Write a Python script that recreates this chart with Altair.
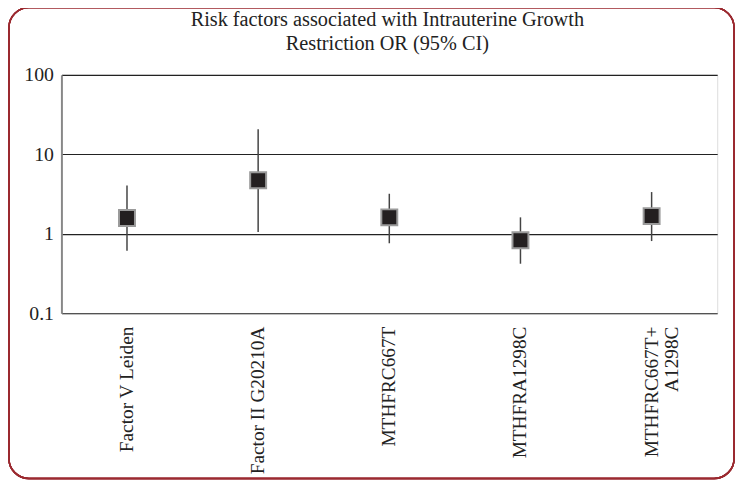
import altair as alt
import pandas as pd

categories = ["Factor V Leiden", "Factor II G20210A", "MTHFRC667T", "MTHFRA1298C", "MTHFRC667T+|A1298C"]
odds_ratio = [1.58, 4.73, 1.61, 0.83, 1.67]
ci_lower = [0.61, 1.05, 0.76, 0.42, 0.81]
ci_upper = [4.06, 20.7, 3.19, 1.61, 3.35]
y_ticks = [0.1, 1, 10, 100]

df = pd.DataFrame({"cat": categories, "or": odds_ratio, "lo": ci_lower, "hi": ci_upper})

FONT = "Liberation Serif"

x = alt.X("cat:N", sort=categories, title=None,
          scale=alt.Scale(paddingInner=0, paddingOuter=0),
          axis=alt.Axis(labelAngle=-90, labelFont=FONT, labelFontSize=19.5, labelColor="#222",
                        labelPadding=13, labelLimit=300, ticks=False, domain=False,
                        labelLineHeight=21,
                        labelExpr="split(datum.label, '|')"))
yscale = alt.Scale(type="log", domain=[0.1, 100])

frame = alt.Chart(df).mark_rect(fill=None, stroke="#9b2a30", strokeWidth=1.5, cornerRadius=20).encode(
    x=alt.value(-53), x2=alt.value(680), y=alt.value(-68), y2=alt.value(408)
)

rules = alt.Chart(df).mark_rule(color="#444", strokeWidth=1.5).encode(
    x=x,
    y=alt.Y("lo:Q", scale=yscale, title=None,
            axis=alt.Axis(values=y_ticks, format="~g", labelFont=FONT, labelFontSize=20,
                          labelColor="#222", labelPadding=8, ticks=False,
                          domainColor="#888", domainWidth=2,
                          grid=True, gridColor="#222", gridWidth=1.2)),
    y2="hi:Q",
)

squares = alt.Chart(df).mark_square(filled=True, fill="#231f20", stroke="#9a9a9a",
                                     strokeWidth=2, size=260, opacity=1).encode(
    x=x,
    y=alt.Y("or:Q", scale=yscale),
)

chart = alt.layer(frame, rules, squares).properties(
    width=663, height=241,
    title=alt.Title(["Risk factors associated with Intrauterine Growth", "Restriction OR (95% CI)"],
                    font=FONT, fontSize=20.5, fontWeight="normal", color="#222",
                    lineHeight=24, offset=-48, anchor="middle", frame="group", dx=-2),
    autosize=alt.AutoSizeParams(type="none"),
    padding={"left": 54, "top": 65, "right": 18, "bottom": 168},
).configure_view(stroke="#666", strokeWidth=1.2).configure(background="white")

chart.save("out.html", embed_options={"renderer": "svg", "actions": False})
